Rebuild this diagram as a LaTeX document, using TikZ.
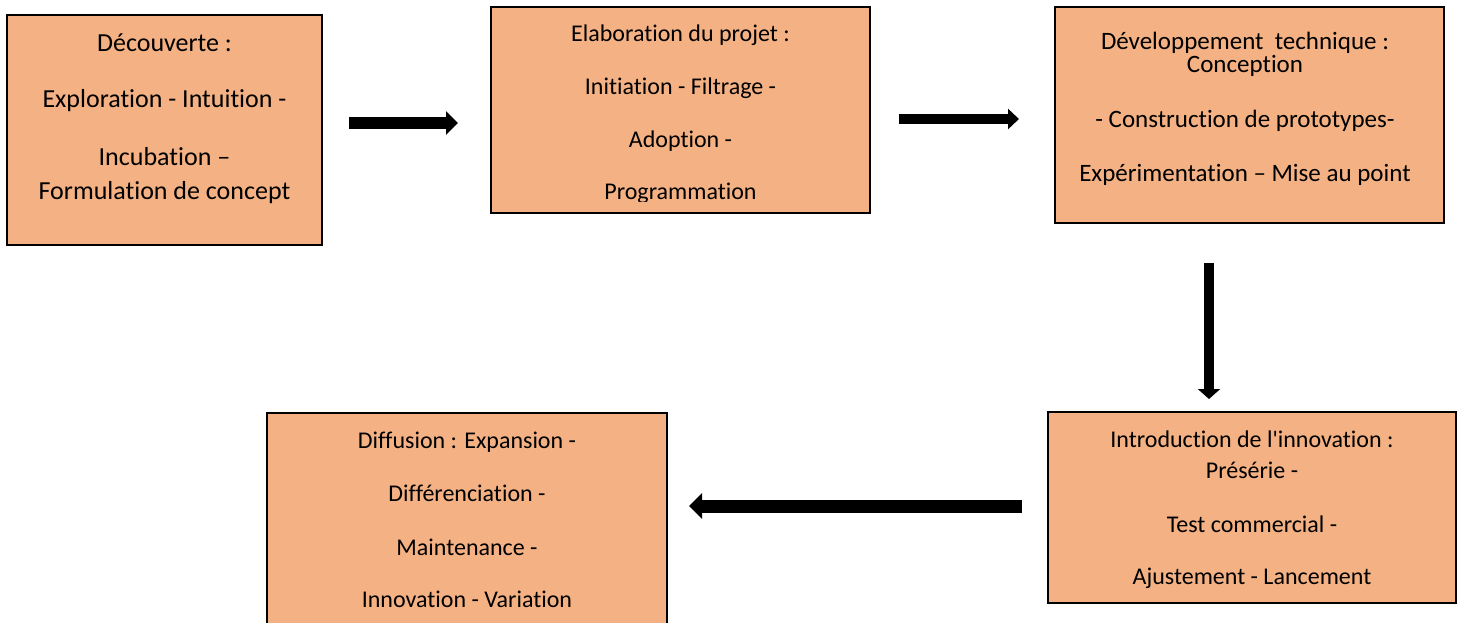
\documentclass[tikz,border=0pt]{standalone}
\usepackage{fontspec}
\newfontfamily\boxfont{Carlito}[Ligatures=NoCommon]
\usetikzlibrary{arrows.meta}
\definecolor{stagefill}{RGB}{244,177,131}
\tikzset{
  stage/.style={draw=black, line width=2pt, fill=stagefill, inner sep=0pt, rectangle},
  txt/.style={anchor=base, inner sep=0pt, font=\boxfont\fontsize{24}{28}\selectfont},
  midtxt/.style={anchor=base, inner sep=0pt, font=\boxfont\fontsize{25}{29}\selectfont},
  bigtxt/.style={anchor=base, inner sep=0pt, font=\boxfont\fontsize{26}{30}\selectfont},
  flow/.style={draw=black, line cap=butt}
}
\begin{document}
\begin{tikzpicture}[x=1pt,y=-1pt]
\useasboundingbox (0,0) rectangle (1457,623);
\clip (0,0) rectangle (1457,623);

% stage boxes
\node[stage, minimum width=315pt, minimum height=230pt] (b1) at (164.5,130) {};
\node[stage, minimum width=379pt, minimum height=206pt] (b2) at (680.5,110) {};
\node[stage, minimum width=389pt, minimum height=216pt] (b3) at (1249.5,115) {};
\node[stage, minimum width=408pt, minimum height=191pt] (b4) at (1252,507.5) {};
\node[stage, minimum width=400pt, minimum height=247pt] (b5) at (467,536.5) {};

% texts of the first stage
\node[bigtxt] (t11) at (164.5,52) {Découverte :};
\node[bigtxt] (t12) at (164.5,108) {Exploration - Intuition -};
\node[bigtxt] (t13) at (164.5,165) {Incubation –};
\node[bigtxt] (t14) at (164.5,200) {Formulation de concept};

% texts of the second stage (last line cut by the text frame)
\node[txt] (t21) at (680.5,42) {Elaboration du projet :};
\node[txt] (t22) at (680.5,95) {Initiation - Filtrage -};
\node[txt] (t23) at (680.5,148) {Adoption -};
\begin{scope}
  \clip (492,8) rectangle (869,201);
  \node[txt] (t24) at (680.5,200) {Programmation};
\end{scope}

% texts of the third stage
\node[midtxt] (t31) at (1245,50) {Développement\ \ technique :};
\node[midtxt] (t32) at (1245,73) {Conception};
\node[midtxt] (t33) at (1245,128) {- Construction de prototypes-};
\node[midtxt] (t34) at (1245,182) {Expérimentation – Mise au point};

% texts of the fourth stage
\node[txt] (t41) at (1252,447) {Introduction de l'innovation :};
\node[txt] (t42) at (1252,478) {Présérie -};
\node[txt] (t43) at (1252,532) {Test commercial -};
\node[txt] (t44) at (1252,584) {Ajustement - Lancement};

% texts of the fifth stage
\node[txt] (t51) at (467,448) {Diffusion : Expansion -};
\node[txt] (t52) at (467,501) {Différenciation -};
\node[txt] (t53) at (467,555) {Maintenance -};
\node[txt] (t54) at (467,607) {Innovation - Variation};

% arrow end points
\coordinate (a1s) at (349,123);  \coordinate (a1e) at (458,123);
\coordinate (a2s) at (899,119);  \coordinate (a2e) at (1019,119);
\coordinate (a3s) at (1209,263); \coordinate (a3e) at (1209,399);
\coordinate (a4s) at (1022,506); \coordinate (a4e) at (689,506);

\draw[flow, line width=12pt, -{Triangle[width=23pt,length=12pt]}] (a1s) -- (a1e);
\draw[flow, line width=10pt, -{Triangle[width=20pt,length=11pt]}] (a2s) -- (a2e);
\draw[flow, line width=10pt, -{Triangle[width=22pt,length=10pt]}] (a3s) -- (a3e);
\draw[flow, line width=13pt, -{Triangle[width=25pt,length=13pt]}] (a4s) -- (a4e);
\end{tikzpicture}
\end{document}
